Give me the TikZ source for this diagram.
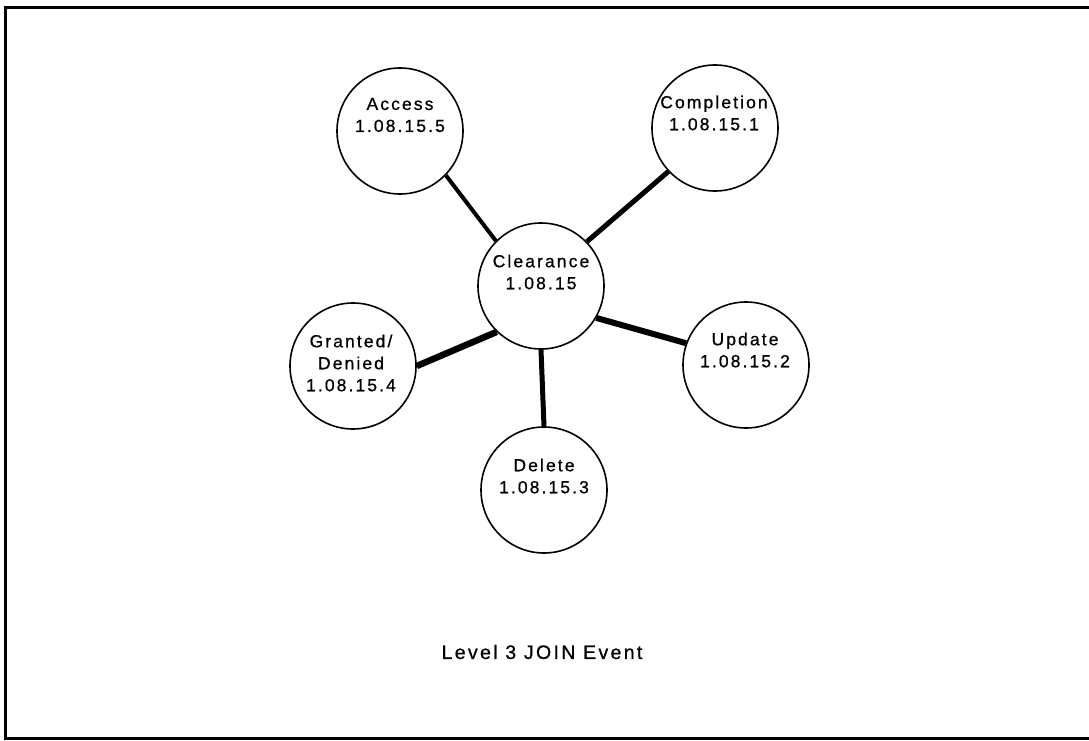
\documentclass[tikz,border=0pt]{standalone}
\usepackage{fontspec}
\setmainfont{Liberation Sans}[LetterSpace=12,FakeBold=0.8]
\begin{document}
\begin{tikzpicture}[x=1pt,y=-1pt,
  bubble/.style={circle,draw,line width=1.6pt,minimum size=126pt,inner sep=0pt},
  lbl/.style={align=center,font=\fontsize{17.5}{22}\selectfont,inner sep=0pt},
  link/.style={line width=#1},
  link/.default=5pt]
\useasboundingbox (0,0) rectangle (1089,741);
\draw[line width=3pt] (1092,8) -- (5,8) -- (5,738) -- (1092,738);
% circles
\node[bubble] (acc) at (400,131) {};
\node[bubble] (comp) at (715,128) {};
\node[bubble] (clr) at (541,286) {};
\node[bubble] (gd) at (353,366) {};
\node[bubble] (upd) at (746,365) {};
\node[bubble] (del) at (544,490) {};
% labels
\node[lbl] (accT) at (400,115) {Access\\1.08.15.5};
\node[lbl] (compT) at (714,113) {Completion\\1.08.15.1};
\node[lbl] (clrT) at (541,272) {Clearance\\1.08.15};
\node[lbl] (gdT) at (351,363) {Granted/\\Denied\\1.08.15.4};
\node[lbl] (updT) at (745,350) {Update\\1.08.15.2};
\node[lbl] (delT) at (544,476) {Delete\\1.08.15.3};
\node[font=\fontsize{19.5}{22}\selectfont,inner sep=0pt] (cap) at (542,652) {Level 3 JOIN Event};
% connectors
\draw[link=4pt] (clr.135) -- (acc.316);
\draw[link=5pt] (clr.44) -- (comp.223);
\draw[link=6pt] (clr.-30) -- (upd.160);
\draw[link=6.5pt] (clr.226) -- (gd.0);
\draw[link=5pt] (clr.270) -- (del.90);
\end{tikzpicture}
\end{document}
